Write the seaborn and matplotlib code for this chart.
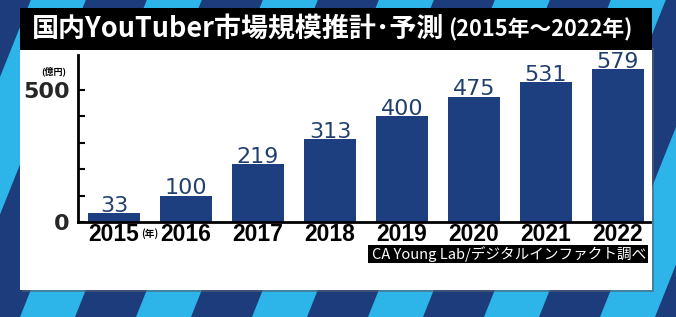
import matplotlib
matplotlib.use("Agg")
import matplotlib.pyplot as plt
import seaborn as sns
import pandas as pd
from matplotlib.patches import Rectangle, Polygon

years = ["2015", "2016", "2017", "2018", "2019", "2020", "2021", "2022"]
values = [33, 100, 219, 313, 400, 475, 531, 579]
ytick_values = [0, 100, 200, 300, 400, 500]
ytick_labels = ["0", "", "", "", "", "500"]
title_main = "国内YouTuber市場規模推計･予測"
title_sub = "(2015年～2022年)"
unit_label = "(億円)"
year_unit = "(年)"
source_text = "CA Young Lab/デジタルインファクト調べ"

sns.set_theme(style="white")
JP = ["Noto Sans CJK JP", "DejaVu Sans"]
plt.rcParams["font.family"] = JP

W, H = 676, 317
fig = plt.figure(figsize=(W / 100, H / 100), dpi=100)
fig.canvas.draw()
renderer = fig.canvas.get_renderer()


def fit_text(axis, x0, x1, y, s, size, **kw):
    t = axis.text(x0, y, s, fontsize=size, ha="left", va="center", **kw)
    w = t.get_window_extent(renderer).width
    t.set_fontsize(size * (x1 - x0) / w)
    return t


# background decoration (pixel coordinates)
bg = fig.add_axes([0, 0, 1, 1])
bg.set_xlim(0, W)
bg.set_ylim(H, 0)
bg.axis("off")
light = "#2db4e8"
navy = "#1d3c7c"
bg.add_patch(Rectangle((0, 0), W, H, color=light, zorder=0))
period, dark_w, slope = 116, 61, 0.4
for k in range(-4, 8):
    x0 = 75 + period * k
    pts = [(x0, H), (x0 + dark_w, H), (x0 + dark_w + slope * H, 0), (x0 + slope * H, 0)]
    bg.add_patch(Polygon(pts, closed=True, color=navy, zorder=1, lw=0))
# white panel with a faint shadow
bg.add_patch(Rectangle((22, 48), 632, 244, color="#55606e", alpha=0.6, zorder=2, lw=0))
bg.add_patch(Rectangle((20, 46), 632, 244, color="white", zorder=2, lw=0))
# title bar
bg.add_patch(Rectangle((20, 8), 632, 42, color="black", zorder=3, lw=0))
# source box
bg.add_patch(Rectangle((368, 245), 280, 18, color="black", zorder=3, lw=0))

fit_text(bg, 32, 445, 29, title_main, 20, color="white", fontweight="bold",
         family=JP, zorder=4)
fit_text(bg, 448, 633, 30, title_sub, 16, color="white", fontweight="bold",
         family=JP, zorder=4)
fit_text(bg, 372, 645, 254, source_text, 11, color="white", family=JP, zorder=4)

bg.text(54, 71, unit_label, color="black", fontsize=6.5, fontweight="bold",
        va="center", ha="center", family=JP, zorder=4)
bg.text(150, 234, year_unit, color="black", fontsize=7, fontweight="bold",
        va="center", ha="center", family=JP, zorder=4)

# main chart
left, right, bottom, top = 78, 650, 222, 55
ax = fig.add_axes([left / W, (H - bottom) / H, (right - left) / W, (bottom - top) / H])
ax.patch.set_alpha(0)
df = pd.DataFrame({"year": years, "value": values})
bar_color = "#1d3f7f"
sns.barplot(data=df, x="year", y="value", ax=ax, color=bar_color, width=0.722,
            saturation=1, edgecolor="none")
ax.set_xlim(-0.5, 7.444)
ax.set_ylim(0, (bottom - top) / 0.264)
ax.set_xlabel("")
ax.set_ylabel("")
for s in ["top", "right"]:
    ax.spines[s].set_visible(False)
for s in ["left", "bottom"]:
    ax.spines[s].set_color("black")
    ax.spines[s].set_linewidth(2)
ax.set_yticks(ytick_values)
ax.set_yticklabels(ytick_labels)
ax.tick_params(axis="y", direction="in", length=5, width=1.5, color="black", pad=6,
               labelsize=16, left=True)
for lab in ax.get_yticklabels():
    lab.set_family("DejaVu Sans")
    lab.set_fontweight("bold")
ax.tick_params(axis="x", length=0, pad=1, labelsize=16.5)
for lab in ax.get_xticklabels():
    lab.set_family("Liberation Sans")
    lab.set_fontweight("bold")
    lab.set_color("black")

for i, v in enumerate(values):
    ax.annotate(str(v), (i, v), xytext=(0, 0.8), textcoords="offset points",
                ha="center", va="baseline", fontsize=16, color="#22406e",
                family="DejaVu Sans", fontweight="medium")

fig.savefig("out.png", dpi=100)
